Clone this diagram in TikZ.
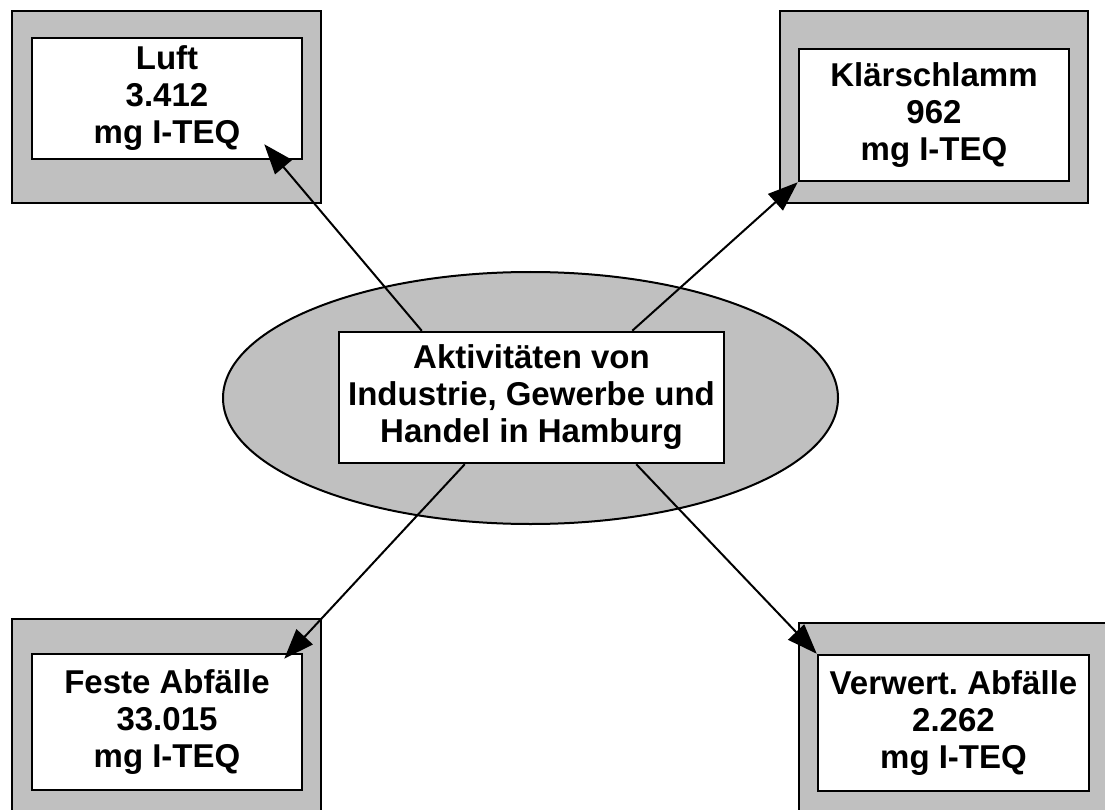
\documentclass[tikz,border=0pt]{standalone}
\usepackage{fontspec}
\setmainfont{Liberation Sans}
\usetikzlibrary{arrows.meta,shapes.geometric}
\definecolor{boxgray}{HTML}{C0C0C0}
\frenchspacing
\tikzset{
  outerbox/.style={rectangle,draw=black,fill=boxgray,line width=2.5pt,inner sep=0pt},
  innerbox/.style={rectangle,draw=black,fill=white,line width=2.5pt,inner sep=0pt,align=center,
    font=\fontsize{33}{37}\selectfont\bfseries},
  flow/.style={line width=2pt,-{Triangle[length=30pt,width=22pt]}},
}
\begin{document}
\begin{tikzpicture}[x=1pt,y=-1pt]
\useasboundingbox (0,0) rectangle (1105,810);
\clip (0,0) rectangle (1105,810);
% outer frames
\node[outerbox,minimum width=309pt,minimum height=192pt] (luftO) at (166.5,107) {};
\node[outerbox,minimum width=308pt,minimum height=192pt] (klO) at (934,107) {};
\node[outerbox,minimum width=309pt,minimum height=192pt] (faO) at (166.5,715) {};
\node[outerbox,minimum width=308pt,minimum height=192pt] (vaO) at (953,719) {};
% inner boxes
\node[innerbox,minimum width=270pt,minimum height=121pt] (luft) at (167,98.5) {Luft\\3.412\\mg I-TEQ};
\node[innerbox,minimum width=270pt,minimum height=132pt] (kl) at (934,115) {Klärschlamm\\962\\mg I-TEQ};
\node[innerbox,minimum width=270pt,minimum height=136pt] (fa) at (167,722) {Feste Abfälle\\33.015\\mg I-TEQ};
\node[innerbox,minimum width=271pt,minimum height=136pt] (va) at (953.5,723) {Verwert. Abfälle\\2.262\\mg I-TEQ};
% centre
\node[ellipse,draw=black,fill=boxgray,line width=2pt,minimum width=615pt,minimum height=252pt,inner sep=0pt] (ell) at (530.5,398) {};
\node[innerbox,minimum width=385pt,minimum height=131pt] (c) at (531.5,397.5) {Aktivitäten von\\Industrie, Gewerbe und\\Handel in Hamburg};
% connectors
\coordinate (s1) at ([xshift=84pt]c.north west);
\coordinate (s2) at ([xshift=-93pt]c.north east);
\coordinate (s3) at ([xshift=127pt]c.south west);
\coordinate (s4) at ([xshift=-89pt]c.south east);
\coordinate (e1) at ([xshift=-39pt,yshift=16pt]luft.south east);
\coordinate (e2) at (kl.south west);
\coordinate (e3) at ([xshift=-19pt,yshift=-6pt]fa.north east);
\coordinate (e4) at (va.north west);
\draw[flow] (s1) -- (e1);
\draw[flow] (s2) -- (e2);
\draw[flow] (s3) -- (e3);
\draw[flow] (s4) -- (e4);
\end{tikzpicture}
\end{document}
